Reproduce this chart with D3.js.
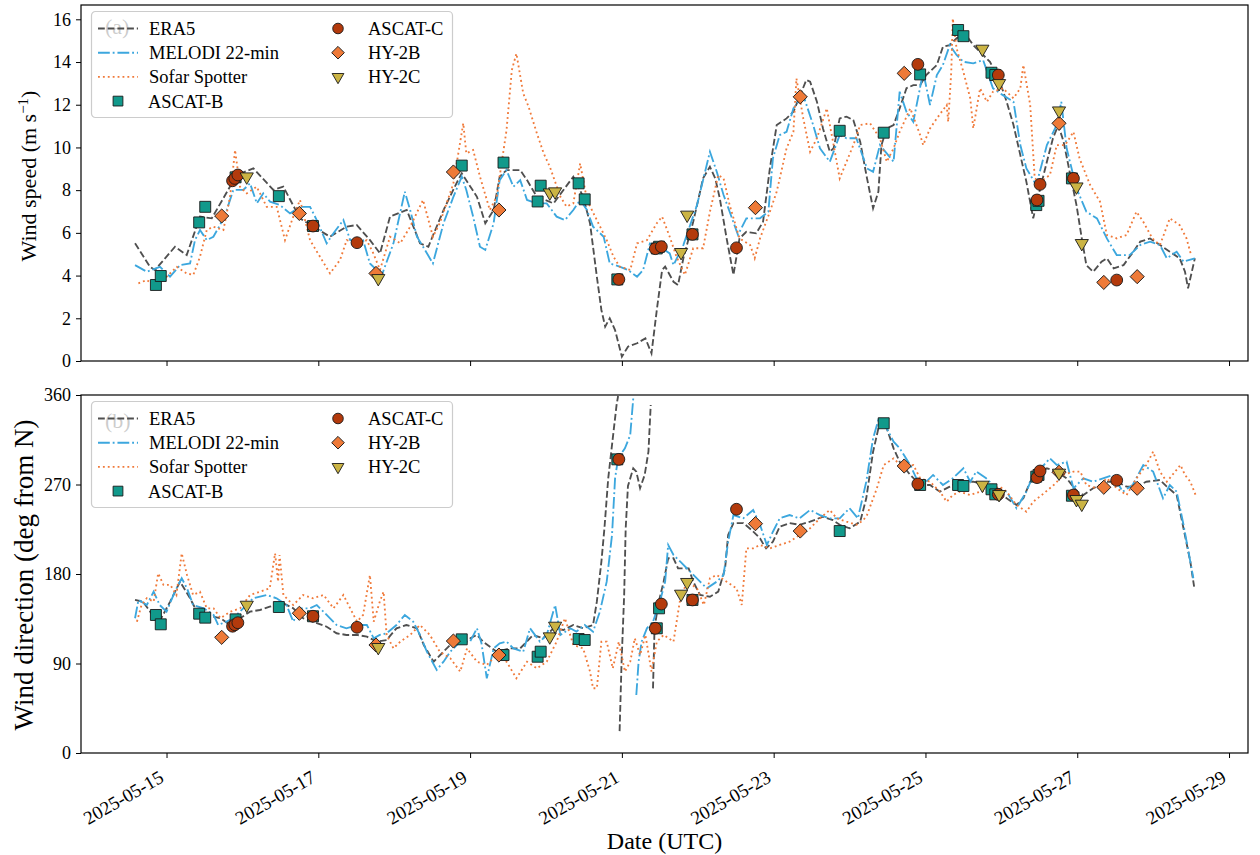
<!DOCTYPE html>
<html>
<head>
<meta charset="utf-8">
<script src="https://cdn.jsdelivr.net/npm/d3@7"></script>
<style>
  body { margin: 0; background: #fff; }
  text { font-family: "Liberation Serif", "Times New Roman", serif; }
</style>
</head>
<body>
<svg id="chart" width="1260" height="855"></svg>
<script>
// days since 2025-05-15 00:00 UTC
const era5Speed = [[-0.415,5.51],[-0.217,4.41],[-0.152,4.26],[0.112,5.35],[0.266,4.96],[0.441,6.76],[0.596,6.68],[0.925,8.71],[1.144,9.02],[1.407,8.01],[1.539,8.16],[1.759,6.68],[1.934,6.29],[2.154,5.82],[2.374,6.29],[2.506,6.37],[2.681,5.66],[2.813,5.04],[2.945,6.76],[3.165,7.07],[3.34,5.51],[3.45,5.35],[3.65,7.07],[3.82,8.32],[3.89,8.79],[4.09,7.69],[4.2,6.45],[4.31,7.07],[4.39,8.63],[4.48,8.94],[4.66,8.94],[4.75,8.47],[4.88,7.69],[5.1,7.38],[5.23,8.01],[5.36,8.63],[5.49,7.69],[5.58,6.45],[5.67,3.95],[5.73,2.39],[5.78,1.61],[5.84,2.0],[5.91,1.45],[6.0,0.2],[6.08,0.67],[6.2,0.83],[6.31,1.06],[6.39,0.36],[6.46,2.39],[6.53,4.26],[6.57,4.42],[6.68,3.71],[6.74,3.56],[6.81,4.81],[6.94,6.52],[7.07,8.55],[7.16,9.1],[7.23,8.55],[7.29,7.62],[7.38,5.74],[7.47,4.03],[7.55,5.74],[7.64,6.05],[7.77,5.98],[7.86,6.52],[7.95,9.02],[8.04,11.05],[8.17,11.36],[8.26,11.67],[8.35,12.45],[8.43,13.16],[8.48,13.08],[8.57,12.14],[8.65,10.89],[8.74,9.8],[8.79,9.96],[8.87,11.36],[8.96,11.44],[9.05,11.28],[9.14,10.27],[9.23,8.55],[9.31,7.15],[9.38,7.93],[9.42,10.11],[9.49,10.89],[9.58,11.05],[9.66,11.83],[9.75,12.77],[9.84,12.92],[9.93,12.92],[10.01,13.39],[10.15,13.86],[10.23,14.71],[10.32,14.79],[10.41,15.11],[10.52,15.34],[10.63,14.79],[10.76,14.33],[10.85,14.01],[10.98,13.08],[11.07,12.14],[11.16,11.05],[11.25,9.64],[11.33,8.39],[11.42,6.68],[11.49,7.77],[11.6,9.33],[11.68,10.43],[11.75,11.05],[11.82,10.27],[11.9,8.86],[11.99,7.3],[12.06,5.74],[12.12,4.49],[12.21,4.18],[12.32,4.65],[12.39,4.81],[12.48,4.34],[12.61,4.49],[12.74,5.12],[12.83,5.59],[12.96,5.74],[13.09,5.43],[13.22,5.12],[13.35,4.81],[13.42,4.18],[13.46,3.4],[13.55,4.81]];

const melodiSpeed = [[-0.415,4.49],[-0.261,4.18],[-0.086,4.41],[0.046,3.95],[0.178,4.49],[0.31,4.57],[0.375,5.66],[0.441,6.13],[0.53,5.66],[0.617,5.82],[0.705,6.37],[0.793,7.07],[0.88,8.01],[1.012,8.01],[1.1,8.32],[1.19,7.38],[1.275,7.85],[1.364,7.46],[1.495,7.3],[1.627,6.91],[1.759,7.22],[1.891,7.22],[1.979,6.6],[2.11,5.51],[2.2,5.98],[2.33,6.6],[2.42,5.66],[2.59,5.66],[2.68,4.57],[2.77,4.26],[2.813,3.79],[2.99,5.51],[3.14,7.93],[3.21,7.07],[3.3,5.82],[3.38,5.35],[3.51,4.57],[3.65,6.45],[3.78,7.69],[3.89,8.63],[3.95,8.01],[4.04,6.76],[4.13,5.35],[4.2,5.2],[4.31,6.45],[4.39,8.47],[4.48,8.94],[4.57,8.16],[4.66,8.47],[4.75,7.54],[4.88,7.38],[5.01,7.38],[5.14,6.76],[5.25,6.6],[5.36,7.07],[5.45,7.54],[5.54,7.07],[5.62,6.29],[5.76,5.82],[5.84,4.57],[5.97,4.42],[6.08,4.26],[6.2,3.95],[6.28,4.26],[6.37,5.51],[6.5,5.35],[6.63,5.04],[6.68,4.49],[6.81,5.43],[6.99,7.3],[7.16,9.8],[7.25,8.86],[7.34,7.77],[7.42,6.99],[7.53,5.9],[7.64,6.68],[7.82,6.68],[7.93,6.99],[7.99,9.49],[8.08,10.58],[8.17,10.73],[8.26,11.83],[8.39,12.45],[8.52,11.05],[8.61,9.96],[8.74,9.33],[8.87,10.58],[8.96,10.43],[9.09,10.43],[9.23,9.02],[9.31,8.86],[9.4,10.11],[9.58,9.33],[9.66,12.61],[9.75,11.67],[9.84,11.2],[9.97,13.54],[10.06,11.99],[10.15,13.39],[10.23,13.86],[10.32,14.79],[10.41,14.33],[10.5,14.01],[10.63,13.94],[10.76,14.09],[10.89,12.77],[11.02,12.45],[11.16,12.14],[11.25,10.11],[11.33,9.02],[11.46,8.24],[11.6,10.11],[11.73,11.05],[11.79,12.14],[11.86,9.96],[11.99,8.09],[12.12,6.99],[12.26,6.68],[12.39,5.74],[12.52,4.96],[12.69,4.96],[12.83,5.43],[12.96,5.59],[13.09,5.43],[13.18,4.81],[13.31,5.12],[13.4,4.65],[13.55,4.81]];

const spotterSpeed = [[-0.371,3.64],[-0.261,3.79],[-0.129,3.48],[0.003,3.95],[0.134,4.41],[0.266,4.1],[0.353,4.03],[0.441,4.88],[0.53,6.13],[0.617,6.29],[0.749,6.13],[0.837,7.69],[0.903,9.88],[0.968,8.16],[1.056,7.85],[1.188,8.16],[1.32,7.22],[1.452,7.22],[1.561,5.66],[1.67,6.76],[1.759,7.54],[1.891,5.66],[2.022,4.88],[2.154,4.1],[2.286,4.73],[2.374,5.66],[2.549,5.51],[2.637,5.66],[2.725,5.04],[2.813,4.26],[2.945,5.82],[3.08,5.51],[3.21,6.29],[3.38,7.54],[3.51,5.82],[3.6,6.45],[3.69,7.38],[3.78,8.32],[3.91,11.13],[3.95,9.72],[4.04,9.88],[4.13,8.63],[4.26,7.07],[4.35,7.69],[4.48,10.81],[4.55,13.62],[4.61,14.4],[4.7,12.53],[4.77,11.91],[4.88,10.66],[4.97,9.72],[5.05,9.1],[5.19,7.69],[5.27,7.23],[5.36,7.38],[5.45,9.25],[5.54,7.54],[5.67,6.6],[5.8,5.66],[5.89,4.88],[5.97,4.42],[6.11,4.26],[6.2,5.51],[6.33,5.66],[6.46,6.45],[6.53,6.76],[6.63,5.82],[6.72,4.88],[6.83,4.03],[6.94,5.28],[7.07,5.28],[7.16,6.99],[7.27,8.71],[7.34,8.55],[7.42,7.3],[7.55,5.74],[7.69,5.43],[7.75,4.81],[7.82,5.74],[7.95,6.99],[8.04,7.93],[8.17,9.96],[8.26,10.73],[8.3,13.23],[8.39,11.36],[8.48,9.8],[8.57,10.43],[8.7,11.83],[8.79,10.11],[8.87,8.55],[8.96,9.33],[9.05,10.11],[9.14,11.05],[9.27,11.13],[9.4,10.43],[9.49,9.33],[9.58,9.96],[9.66,10.73],[9.8,11.83],[9.93,10.58],[9.97,10.11],[10.06,10.89],[10.15,11.36],[10.28,11.99],[10.3,11.2],[10.34,13.54],[10.36,16.04],[10.41,14.64],[10.5,13.54],[10.59,12.3],[10.63,10.89],[10.72,12.77],[10.81,12.14],[10.89,12.61],[11.02,12.77],[11.16,12.3],[11.25,12.77],[11.29,13.86],[11.38,11.99],[11.44,8.55],[11.51,8.39],[11.64,8.71],[11.73,10.11],[11.84,10.11],[11.95,10.73],[12.03,9.49],[12.17,8.24],[12.3,7.46],[12.39,5.9],[12.52,5.74],[12.65,5.9],[12.78,6.99],[12.87,6.52],[12.99,5.74],[13.09,5.43],[13.22,6.68],[13.35,6.36],[13.44,5.74],[13.5,4.96]];

// null = break where the direction wraps past north
const era5Dir = [[-0.415,153.9],[-0.31,152],[-0.2,140.5],[-0.07,135.5],[0.046,152],[0.178,172.3],[0.31,155.6],[0.4,142.1],[0.53,138.8],[0.71,135.5],[0.84,128.7],[0.97,135.5],[1.1,142.1],[1.23,143.8],[1.36,147.1],[1.54,150.5],[1.67,145.5],[1.8,135.5],[1.93,132.1],[2.11,127],[2.24,120.4],[2.37,118.7],[2.51,118.7],[2.64,117],[2.77,112],[2.9,113.6],[3.03,125.4],[3.16,128.7],[3.3,125.4],[3.39,108.6],[3.52,91.8],[3.65,101.9],[3.78,112],[3.91,115.3],[4.0,115.3],[4.09,118.7],[4.17,112],[4.35,101.9],[4.53,105.2],[4.66,105.2],[4.83,118.7],[4.96,115.3],[5.1,125.4],[5.23,123.7],[5.36,128.7],[5.49,125.4],[5.62,128.7],[5.67,152.2],[5.73,192.4],[5.77,226],[5.82,276.2],[5.87,309.8],[5.93,350],[5.95,359],[5.955,null],[5.97,22],[5.996,91.8],[6.03,158.9],[6.05,225.6],[6.08,268.5],[6.15,286.3],[6.19,283],[6.24,266.3],[6.3,279.6],[6.35,303],[6.38,350],[6.39,null],[6.41,65],[6.43,125.4],[6.48,150],[6.55,172.3],[6.61,195.8],[6.68,195.8],[6.74,185.7],[6.88,185.7],[6.94,172.3],[7.03,158.9],[7.16,157.2],[7.27,162.3],[7.36,185.7],[7.4,219.2],[7.47,231.2],[7.6,231.2],[7.71,224.2],[7.82,215.9],[7.87,209.2],[7.9,205.8],[7.99,212.5],[8.08,227.6],[8.21,231.2],[8.34,229.5],[8.48,232.6],[8.65,237.6],[8.78,234.2],[8.87,229.5],[9.0,226],[9.14,232.6],[9.22,256.1],[9.31,303],[9.4,333.2],[9.49,326.5],[9.58,306.4],[9.66,292.9],[9.8,279.6],[9.93,269.5],[10.06,269.5],[10.19,262.8],[10.32,267.8],[10.45,272.8],[10.63,272.8],[10.8,269.5],[10.94,264.5],[11.07,256.1],[11.2,249.4],[11.29,256.1],[11.38,272.8],[11.47,279.6],[11.6,286.3],[11.73,283],[11.86,276.2],[12.0,262.8],[12.08,259.4],[12.21,266.2],[12.39,272.8],[12.52,272.8],[12.65,267.8],[12.78,267.8],[12.91,272.8],[13.09,274.5],[13.18,267.8],[13.31,259.4],[13.4,226],[13.49,192.4],[13.54,167.2]];

const melodiDir = [[-0.415,135.5],[-0.37,153.9],[-0.26,148.8],[-0.17,162.2],[-0.09,148.8],[0.0,142.1],[0.11,162.2],[0.2,175.7],[0.27,165.6],[0.35,148.8],[0.49,145.5],[0.62,138.8],[0.68,128.7],[0.79,132.1],[0.88,135.5],[1.01,145.5],[1.14,155.6],[1.32,158.9],[1.45,155.6],[1.58,148.8],[1.67,132.1],[1.76,145.5],[1.89,145.5],[1.98,148.8],[2.11,138.8],[2.24,128.7],[2.37,125.4],[2.51,128.7],[2.64,128.7],[2.73,115.3],[2.81,118.7],[2.9,120.4],[3.03,128.7],[3.14,138.8],[3.25,132.1],[3.34,118.7],[3.43,101.9],[3.56,83.5],[3.65,91.8],[3.74,101.9],[3.87,112],[4.0,112],[4.09,125.4],[4.15,110.3],[4.22,75.1],[4.31,105.2],[4.39,110.3],[4.48,112],[4.57,105.2],[4.7,101.9],[4.79,125.4],[4.92,112],[5.01,118.7],[5.12,148.8],[5.19,118.7],[5.32,125.4],[5.4,122],[5.51,128.7],[5.62,122],[5.71,142.1],[5.8,172.3],[5.87,219.2],[5.91,276.2],[5.95,296.3],[6.04,306.4],[6.11,319.8],[6.15,356.7],[6.16,null],[6.19,58.3],[6.22,91.8],[6.26,112],[6.33,125.4],[6.41,132.1],[6.5,152.2],[6.57,172.3],[6.61,209.2],[6.68,199.1],[6.77,192.4],[6.9,182.3],[7.03,172.3],[7.12,165.6],[7.25,172.3],[7.34,179],[7.4,212.5],[7.47,239.3],[7.6,236],[7.73,244.4],[7.82,229.5],[7.91,209.2],[7.99,222.5],[8.08,236],[8.21,239.3],[8.34,236],[8.48,244.4],[8.61,239.3],[8.74,236],[8.87,236],[9.0,246.1],[9.11,236],[9.22,272.8],[9.31,316.5],[9.38,334.9],[9.49,326.5],[9.58,313.1],[9.66,306.4],[9.8,289.6],[9.88,276.2],[10.01,272.8],[10.1,279.6],[10.23,269.5],[10.36,276.2],[10.5,286.3],[10.59,272.8],[10.67,283],[10.8,276.2],[10.94,266.2],[11.07,262.8],[11.2,246.1],[11.33,262.8],[11.42,279.6],[11.56,289.6],[11.64,296.3],[11.73,289.6],[11.86,292.9],[11.95,266.2],[12.08,276.2],[12.21,272.8],[12.34,276.2],[12.47,279.6],[12.6,262.8],[12.73,269.5],[12.87,289.6],[13.0,283],[13.13,256.1],[13.22,269.5],[13.31,262.8],[13.4,229.5],[13.49,192.4],[13.53,175.7]];

const spotterDir = [[-0.39,132.1],[-0.33,148.8],[-0.26,155.6],[-0.17,152.2],[-0.11,180.7],[-0.04,169],[0.05,169],[0.13,158.9],[0.2,200.8],[0.27,179],[0.35,158.9],[0.44,162.2],[0.53,145.5],[0.62,145.5],[0.71,135.5],[0.84,142.1],[0.97,145.5],[1.1,158.9],[1.23,162.2],[1.36,165.6],[1.43,200.8],[1.47,172.3],[1.49,199.1],[1.54,158.9],[1.67,148.8],[1.8,158.9],[1.93,155.6],[2.07,158.9],[2.2,145.5],[2.33,158.9],[2.42,145.5],[2.51,132.1],[2.59,138.8],[2.68,179],[2.73,132.1],[2.81,152.2],[2.86,162.2],[2.9,118.7],[2.99,105.2],[3.08,112],[3.21,118.7],[3.34,128.7],[3.47,118.7],[3.6,101.9],[3.74,95.2],[3.87,81.8],[3.96,105.2],[4.09,91.8],[4.22,88.5],[4.35,98.5],[4.48,91.8],[4.61,75.1],[4.75,91.8],[4.88,85.1],[5.01,91.8],[5.14,112],[5.25,135.5],[5.36,108.6],[5.49,105.2],[5.58,81.8],[5.62,65.1],[5.67,65.1],[5.73,112],[5.8,112],[5.88,85.1],[5.96,112],[6.04,81.8],[6.11,91.8],[6.17,115.3],[6.24,98.5],[6.31,118.7],[6.39,81.8],[6.46,112],[6.55,118.7],[6.68,112],[6.77,155.6],[6.86,172.3],[6.99,165.6],[7.08,148.8],[7.16,175.7],[7.25,179],[7.38,172.3],[7.51,165.6],[7.58,148.8],[7.64,205.8],[7.73,205.8],[7.82,209.2],[7.95,205.8],[8.08,209.2],[8.21,212.5],[8.34,219.2],[8.48,226],[8.61,236],[8.74,244.4],[8.83,236],[8.96,232.6],[9.09,229.5],[9.18,234],[9.23,239.3],[9.36,266.2],[9.45,289.6],[9.58,296.3],[9.71,286.3],[9.84,289.6],[9.93,276.2],[10.06,272.8],[10.19,262.8],[10.28,252.7],[10.36,259.4],[10.45,262.8],[10.59,259.4],[10.72,262.8],[10.85,264.5],[10.98,267.8],[11.07,262.8],[11.2,249.4],[11.33,242.7],[11.42,252.7],[11.56,261.1],[11.69,269.5],[11.82,279.6],[11.95,283],[12.04,283],[12.12,269.5],[12.25,266.2],[12.39,276.2],[12.52,266.2],[12.65,259.4],[12.78,276.2],[12.91,289.6],[13.0,303],[13.09,283],[13.18,272.8],[13.29,283],[13.36,289.6],[13.42,279.6],[13.49,272.8],[13.56,259.4]];

// satellite overpasses: time (days), speed, direction
const ascatBTime  = [-0.14,-0.076,0.43,0.51,0.91,1.48,1.93,3.89,4.44,4.89,4.93,5.43,5.51,5.94,6.46,6.49,6.93,8.87,9.45,9.93,10.43,10.5,10.87,10.92,11.46,11.49,11.93];
const ascatBSpeed = [3.56,3.98,6.49,7.22,8.6,7.72,6.32,9.15,9.29,7.47,8.21,8.32,7.57,3.82,5.27,5.35,5.93,10.78,10.69,13.42,15.5,15.21,13.5,13.39,7.3,7.5,8.55];
const ascatBDir   = [138.8,129.4,140.1,136.1,134.4,146.8,137.5,114.3,98.5,96.8,101.9,114.6,113.6,295.3,125.4,145.5,153.9,223.2,331.6,269.5,269.5,268.5,265.2,260.1,277.9,279.6,258.7];

const ascatCTime  = [0.87,0.9,0.94,1.93,2.51,5.96,6.44,6.52,6.93,7.51,9.9,10.96,11.47,11.51,11.95,12.52];
const ascatCSpeed = [8.44,8.55,8.71,6.32,5.54,3.82,5.26,5.35,5.93,5.3,13.89,13.39,7.54,8.27,8.55,3.79];
const ascatCDir   = [127.5,129,131,137.5,126.4,295.3,125.4,149.8,153.9,245.1,270.5,260.1,276.9,283.6,259.4,274.2];

const hy2bTime  = [0.727,1.75,2.76,3.78,4.38,7.76,8.35,9.72,11.76,12.35,12.79];
const hy2bSpeed = [6.79,6.91,4.1,8.85,7.07,7.18,12.37,13.47,11.13,3.68,3.95];
const hy2bDir   = [116.3,140.5,108.6,112.6,98.5,230.6,223.2,288.6,282.3,267.2,266.2];

const hy2cTime  = [1.057,2.79,5.05,5.12,6.78,6.86,10.75,10.97,11.76,11.99,12.06];
const hy2cSpeed = [8.63,3.87,7.88,7.93,5.09,6.84,14.61,13.0,11.72,8.16,5.51];
const hy2cDir   = [148.8,106.3,117,127.7,159.9,171.7,269.5,260.1,281.6,255.1,250.4];

const dateTicks = ["2025-05-15","2025-05-17","2025-05-19","2025-05-21","2025-05-23","2025-05-25","2025-05-27","2025-05-29"];
const speedTicks = [0,2,4,6,8,10,12,14,16];
const dirTicks = [0,90,180,270,360];

const BASE = Date.UTC(2025, 4, 15);
const day = d => new Date(BASE + d * 864e5);

const C = {
  era5: "#4f4f4f", melodi: "#3ca7de", spotter: "#f07a3a",
  ascatB: "#11998b", ascatC: "#b33a0c", hy2b: "#ee7a38", hy2c: "#cbb444"
};

const left = 81, right = 1248;
const svg = d3.select("#chart");

const x = d3.scaleUtc()
  .domain([day(-1.127), day(14.25)])
  .range([left, right]);

// matplotlib-like dash patterns, scaled by line width
const lineStyles = [
  { key: "era5", label: "ERA5", dash: "6.8,2.9", width: 1.85 },
  { key: "melodi", label: "MELODI 22-min", dash: "11.8,2.9,1.85,2.9", width: 1.85 },
  { key: "spotter", label: "Sofar Spotter", dash: "1.85,3.05", width: 1.85 }
];

const markerStyles = [
  { key: "ascatB", label: "ASCAT-B", type: d3.symbolSquare, size: 120, rot: 0 },
  { key: "ascatC", label: "ASCAT-C", type: d3.symbolCircle, size: 110, rot: 0 },
  { key: "hy2b", label: "HY-2B", type: d3.symbolSquare, size: 100, rot: 45 },
  { key: "hy2c", label: "HY-2C", type: d3.symbolTriangle, size: 75, rot: 180 }
];

function panel(cfg) {
  const g = svg.append("g");
  const y = d3.scaleLinear().domain(cfg.yDomain).range([cfg.bottom, cfg.top]);

  g.append("clipPath").attr("id", cfg.id)
    .append("rect")
    .attr("x", left).attr("y", cfg.top)
    .attr("width", right - left).attr("height", cfg.bottom - cfg.top);

  // x axis
  const xa = g.append("g")
    .attr("transform", `translate(0,${cfg.bottom})`)
    .call(d3.axisBottom(x)
      .tickValues(dateTicks.map(s => new Date(s + "T00:00:00Z")))
      .tickFormat(d3.utcFormat("%Y-%m-%d"))
      .tickSize(5).tickSizeOuter(0));
  xa.select(".domain").remove();
  xa.selectAll("line").attr("stroke", "#000").attr("stroke-width", 1);
  if (cfg.showDates) {
    xa.selectAll("text")
      .attr("x", 0).attr("y", 0).attr("dy", 0)
      .attr("text-anchor", "end")
      .attr("transform", "translate(-2,28) rotate(-30)")
      .attr("fill", "#000")
      .style("font-size", "19px");
  } else {
    xa.selectAll("text").remove();
  }

  // y axis
  const ya = g.append("g")
    .attr("transform", `translate(${left},0)`)
    .call(d3.axisLeft(y).tickValues(cfg.yTicks).tickSize(5).tickPadding(5).tickSizeOuter(0));
  ya.select(".domain").remove();
  ya.selectAll("line").attr("stroke", "#000").attr("stroke-width", 1);
  ya.selectAll("text").attr("fill", "#000").style("font-size", "18px");

  g.append("text")
    .attr("transform", `translate(${cfg.labelX},${cfg.labelY}) rotate(-90)`)
    .attr("text-anchor", "middle")
    .style("font-size", cfg.labelSize)
    .html(cfg.yLabel);

  const plot = g.append("g").attr("clip-path", `url(#${cfg.id})`);

  const line = d3.line()
    .defined(d => d[1] != null)
    .x(d => x(day(d[0])))
    .y(d => y(d[1]));

  lineStyles.forEach(s => {
    plot.append("path")
      .datum(cfg.lines[s.key])
      .attr("fill", "none")
      .attr("stroke", C[s.key])
      .attr("stroke-width", s.width)
      .attr("stroke-dasharray", s.dash)
      .attr("d", line);
  });

  markerStyles.forEach(s => {
    const [t, v] = cfg.points[s.key];
    const sym = d3.symbol().type(s.type).size(s.size);
    plot.selectAll(null)
      .data(t.map((d, i) => [d, v[i]]))
      .join("path")
      .attr("d", sym)
      .attr("transform", d => `translate(${x(day(d[0]))},${y(d[1])}) rotate(${s.rot})`)
      .attr("fill", C[s.key])
      .attr("stroke", "#1a1a1a")
      .attr("stroke-width", 0.9);
  });

  // panel letter sits under the semi-transparent legend
  g.append("text")
    .attr("x", 105).attr("y", cfg.top + cfg.letterDy)
    .style("font-size", "22px")
    .text(cfg.letter);

  const lg = g.append("g").attr("transform", `translate(91,${cfg.top + 6})`);
  lg.append("rect")
    .attr("x", 0.5).attr("y", 0.5)
    .attr("width", 361).attr("height", 106).attr("rx", 4)
    .attr("fill", "#fff").attr("fill-opacity", 0.8)
    .attr("stroke", "#cccccc").attr("stroke-width", 1.2);

  const rowY = i => 17.5 + i * 24.2;
  lineStyles.forEach((s, i) => {
    lg.append("line")
      .attr("x1", 7).attr("x2", 47)
      .attr("y1", rowY(i)).attr("y2", rowY(i))
      .attr("stroke", C[s.key]).attr("stroke-width", s.width)
      .attr("stroke-dasharray", s.dash);
    lg.append("text").attr("x", 58).attr("y", rowY(i)).attr("dy", "0.35em")
      .style("font-size", "18.5px").text(s.label);
  });
  const slots = [[27, 3], [247, 0], [247, 1], [247, 2]];
  markerStyles.forEach((s, i) => {
    const [mx, row] = slots[i];
    lg.append("path")
      .attr("d", d3.symbol().type(s.type).size(s.size * 0.8)())
      .attr("transform", `translate(${mx},${rowY(row)}) rotate(${s.rot})`)
      .attr("fill", C[s.key]).attr("stroke", "#1a1a1a").attr("stroke-width", 0.9);
    lg.append("text").attr("x", mx + 30).attr("y", rowY(row)).attr("dy", "0.35em")
      .style("font-size", "18.5px").text(s.label);
  });

  // frame
  g.append("rect")
    .attr("x", left).attr("y", cfg.top)
    .attr("width", right - left).attr("height", cfg.bottom - cfg.top)
    .attr("fill", "none").attr("stroke", "#000").attr("stroke-width", 1.2);
}

panel({
  id: "clipA", top: 5, bottom: 361, yDomain: [0, 16.67], yTicks: speedTicks,
  yLabel: "Wind speed (m s<tspan dy='-8' font-size='15px'>−1</tspan><tspan dy='8'>)</tspan>",
  labelX: 36, labelY: 176, labelSize: "22px", letter: "(a)", letterDy: 29, showDates: false,
  lines: { era5: era5Speed, melodi: melodiSpeed, spotter: spotterSpeed },
  points: {
    ascatB: [ascatBTime, ascatBSpeed], ascatC: [ascatCTime, ascatCSpeed],
    hy2b: [hy2bTime, hy2bSpeed], hy2c: [hy2cTime, hy2cSpeed]
  }
});

panel({
  id: "clipB", top: 395, bottom: 753, yDomain: [0, 360], yTicks: dirTicks,
  yLabel: "Wind direction (deg from N)",
  labelX: 33, labelY: 575, labelSize: "27px", letter: "(b)", letterDy: 33, showDates: true,
  lines: { era5: era5Dir, melodi: melodiDir, spotter: spotterDir },
  points: {
    ascatB: [ascatBTime, ascatBDir], ascatC: [ascatCTime, ascatCDir],
    hy2b: [hy2bTime, hy2bDir], hy2c: [hy2cTime, hy2cDir]
  }
});

svg.append("text")
  .attr("x", (left + right) / 2).attr("y", 849)
  .attr("text-anchor", "middle")
  .style("font-size", "24px")
  .text("Date (UTC)");
</script>
</body>
</html>
